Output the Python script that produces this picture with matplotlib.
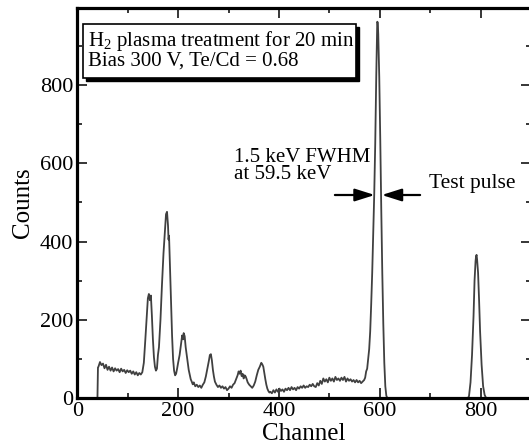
"""Pulse-height spectrum of a CdTe detector after H2 plasma treatment."""

import matplotlib

matplotlib.use("Agg")

import matplotlib.pyplot as plt
from matplotlib.patches import Rectangle
from matplotlib.ticker import MultipleLocator

LINE = "#404040"
INK = "#000000"
FONT = "Liberation Serif"

# spectrum: (channel, counts)
channel = [
    0, 40, 41, 42, 45, 48, 51, 54, 57, 60, 63, 66, 69, 72, 75, 78, 81, 84, 87,
    90, 93, 96, 99, 102, 105, 108, 111, 114, 117, 120, 123, 126, 129,
    132, 135, 138, 140, 142, 144, 146, 148, 150, 152, 154, 156, 158,
    160, 162, 165, 168, 171, 174, 176, 178, 180, 181, 182, 184, 186, 188,
    190, 192, 194, 196, 198,
    200, 203, 206, 208, 210, 211, 213, 215, 217, 219, 221, 223, 225, 227,
    229, 231, 234, 237, 240, 243, 246, 249, 252,
    255, 258, 261, 263, 265, 267, 269, 271, 273, 276, 279, 282, 285, 288,
    291, 294, 297, 300, 303, 306, 309, 312,
    315, 318, 320, 322, 324, 326, 328, 330, 332, 334, 336, 338, 341, 344,
    347, 350,
    353, 356, 359, 362, 365, 367, 369, 371, 373, 375, 377, 379, 381, 383,
    386, 389, 392, 395, 398, 401, 404, 407, 410, 413, 416, 419, 422, 425,
    428, 431, 434, 437, 440, 443, 446, 449, 452, 455, 458, 461, 464, 467,
    470, 473, 476, 479, 482, 485, 488, 491, 494, 497, 500, 503, 506, 509,
    512, 515, 518, 521, 524, 527, 530, 533, 536, 539, 542, 545, 548, 551,
    554, 557, 560, 563, 566, 569, 571, 573, 575, 577, 579,
    581, 583, 585, 587, 589, 591, 593, 595, 596, 597, 599, 601, 603, 605,
    607, 609, 611, 613, 615, 620,
    775, 777, 780, 783, 786, 788, 790, 791, 792, 793, 795, 797, 799, 802,
    805, 808, 811, 900,
]
counts = [
    0, 0, 78, 80, 92, 84, 88, 76, 85, 72, 80, 70, 78, 68, 76, 70, 74, 66, 75,
    68, 72, 64, 71, 66, 70, 62, 68, 60, 66, 58, 64, 60, 66,
    90, 150, 215, 255, 266, 250, 262, 210, 150, 105, 80, 70, 75,
    110, 130, 200, 290, 370, 430, 470, 476, 440, 405, 415, 330, 240, 160,
    100, 70, 58, 62, 75,
    90, 110, 140, 160, 150, 166, 158, 130, 110, 92, 72, 60, 48, 42,
    35, 40, 30, 34, 28, 32, 26, 34, 40,
    55, 75, 95, 110, 112, 96, 72, 55, 42, 34, 28, 32, 26, 30,
    24, 28, 20, 24, 30, 26, 34, 38,
    48, 58, 68, 62, 70, 56, 62, 50, 58, 55, 48, 40, 34, 30,
    26, 32,
    42, 58, 72, 80, 90, 86, 80, 64, 48, 34, 24, 18, 14, 16,
    12, 20, 14, 22, 16, 24, 18, 22, 16, 24, 20, 26, 20, 28,
    22, 26, 20, 28, 24, 30, 26, 32, 26, 30, 28, 34, 30, 36,
    30, 28, 38, 32, 44, 36, 50, 42, 48, 40, 52, 44, 50, 42,
    54, 46, 50, 44, 52, 46, 54, 42, 50, 44, 48, 42, 46, 40,
    46, 40, 44, 38, 42, 46, 52, 68, 75, 100, 125,
    170, 240, 320, 420, 520, 650, 820, 962, 960, 930, 820, 660, 480, 320,
    190, 90, 30, 6, 0, 0,
    0, 5, 40, 110, 210, 300, 350, 362, 366, 355, 320, 250, 170, 85,
    30, 8, 0, 0,
]

x_ticks = [0, 200, 400, 600, 800]
y_ticks = [0, 200, 400, 600, 800]

plt.rcParams["font.family"] = FONT
plt.rcParams["mathtext.fontset"] = "custom"
plt.rcParams["mathtext.rm"] = FONT

fig = plt.figure(figsize=(5.29, 4.46), dpi=100, facecolor="white")
ax = fig.add_axes([0.1461, 0.1076, 0.8577, 0.8744])

ax.plot(channel, counts, color=LINE, linewidth=1.3)

ax.set_xlim(0, 900)
ax.set_ylim(0, 997)
ax.xaxis.set_minor_locator(MultipleLocator(100))
ax.yaxis.set_minor_locator(MultipleLocator(100))
ax.set_xticks(x_ticks, [str(t) for t in x_ticks])
ax.set_yticks(y_ticks, [str(t) for t in y_ticks])

ax.tick_params(which="both", direction="in", top=True, right=True,
               width=1.1, color=INK, labelsize=16, pad=3)
ax.tick_params(which="major", length=7)
ax.tick_params(which="minor", length=3.8)
for spine in ax.spines.values():
    spine.set_linewidth(2.3)

ax.set_xlabel("Channel", fontsize=18, labelpad=1)
ax.set_ylabel("Counts", fontsize=18, labelpad=4)

# caption box with a drop shadow; the text runs past its right edge
box_x0, box_x1, box_y0, box_y1 = 11, 552, 818, 956
ax.add_patch(Rectangle((box_x0 + 6, box_y0 - 8), box_x1 - box_x0, box_y1 - box_y0,
                       facecolor=INK, edgecolor=INK, zorder=3))
box = Rectangle((box_x0, box_y0), box_x1 - box_x0, box_y1 - box_y0,
                facecolor="white", edgecolor=INK, linewidth=1.2, zorder=4)
ax.add_patch(box)
caption = ax.text(21, 890, "H$_{\\mathrm{2}}$ plasma treatment for 20 min\nBias 300 V, Te/Cd = 0.68",
                  fontsize=15, va="center", ha="left", linespacing=0.88, zorder=5)
caption.set_clip_path(box)

ax.text(311, 593, "1.5 keV FWHM\nat 59.5 keV", fontsize=15, va="center",
        ha="left", linespacing=0.92)
ax.text(697, 549, "Test pulse", fontsize=15.5, va="center", ha="left")

arrow = dict(arrowstyle="-|>,head_length=1.2,head_width=0.38", color=INK,
             linewidth=1.6, shrinkA=0, shrinkB=0)
ax.annotate("", xy=(590, 519), xytext=(511, 519), arrowprops=arrow)
ax.annotate("", xy=(604, 519), xytext=(680, 519), arrowprops=arrow)

fig.savefig("out.png", dpi=100, facecolor="white")
